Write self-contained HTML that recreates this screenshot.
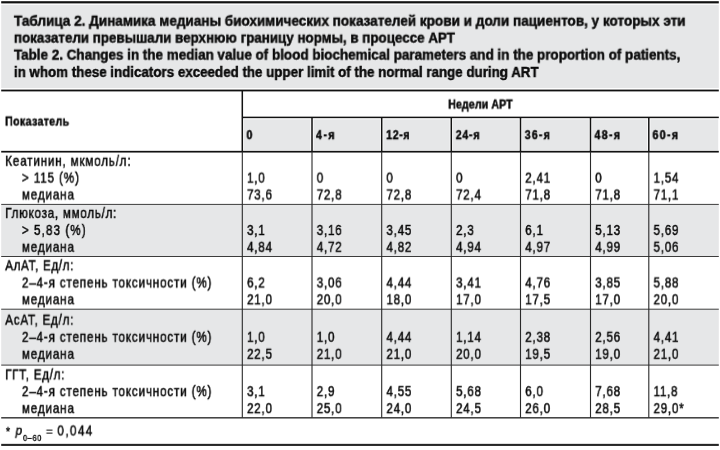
<!DOCTYPE html>
<html><head><meta charset="utf-8"><title>Table 2</title>
<style>
html,body{margin:0;padding:0;background:#fff;}
body{width:720px;height:450px;position:relative;overflow:hidden;font-family:"Liberation Sans",sans-serif;color:#0a0a0a;}
svg{position:absolute;left:0;top:0;}
.t{position:absolute;left:0;top:0;white-space:nowrap;transform-origin:0 0;display:block;will-change:transform;-webkit-text-stroke:0.45px #0a0a0a;}
</style></head><body>
<svg width="720" height="450" viewBox="0 0 720 450">
<rect x="1.20" y="4.80" width="717.60" height="83.20" fill="#e6e7e8"/>
<rect x="243.90" y="119.30" width="66.50" height="31.00" fill="#e6e7e8"/>
<rect x="313.60" y="119.30" width="66.50" height="31.00" fill="#e6e7e8"/>
<rect x="383.30" y="119.30" width="66.40" height="31.00" fill="#e6e7e8"/>
<rect x="452.90" y="119.30" width="66.00" height="31.00" fill="#e6e7e8"/>
<rect x="522.10" y="119.30" width="66.80" height="31.00" fill="#e6e7e8"/>
<rect x="592.10" y="119.30" width="55.10" height="31.00" fill="#e6e7e8"/>
<rect x="650.40" y="119.30" width="67.80" height="31.00" fill="#e6e7e8"/>
<rect x="1.20" y="204.70" width="717.60" height="51.80" fill="#e6e7e8"/>
<rect x="1.20" y="309.50" width="717.60" height="55.60" fill="#e6e7e8"/>
<rect x="1.20" y="1.20" width="717.60" height="2.20" fill="#111111"/>
<rect x="1.20" y="89.60" width="717.60" height="1.80" fill="#111111"/>
<rect x="242.30" y="116.65" width="476.50" height="1.50" fill="#111111"/>
<rect x="1.20" y="150.85" width="717.60" height="1.70" fill="#111111"/>
<rect x="1.20" y="203.90" width="717.60" height="1.00" fill="#3c3c3c"/>
<rect x="1.20" y="256.00" width="717.60" height="1.00" fill="#3c3c3c"/>
<rect x="1.20" y="308.70" width="717.60" height="1.00" fill="#3c3c3c"/>
<rect x="1.20" y="364.60" width="717.60" height="1.00" fill="#3c3c3c"/>
<rect x="1.20" y="417.05" width="717.60" height="1.50" fill="#3c3c3c"/>
<rect x="1.20" y="443.85" width="717.60" height="2.10" fill="#262626"/>
<rect x="241.55" y="90.50" width="1.50" height="61.20" fill="#111111"/>
<rect x="311.25" y="117.40" width="1.50" height="34.30" fill="#111111"/>
<rect x="380.95" y="117.40" width="1.50" height="34.30" fill="#111111"/>
<rect x="450.55" y="117.40" width="1.50" height="34.30" fill="#111111"/>
<rect x="519.75" y="117.40" width="1.50" height="34.30" fill="#111111"/>
<rect x="589.75" y="117.40" width="1.50" height="34.30" fill="#111111"/>
<rect x="648.05" y="117.40" width="1.50" height="34.30" fill="#111111"/>
<rect x="241.75" y="151.70" width="1.10" height="266.10" fill="#2a2a2a"/>
<rect x="311.45" y="151.70" width="1.10" height="266.10" fill="#2a2a2a"/>
<rect x="381.15" y="151.70" width="1.10" height="266.10" fill="#2a2a2a"/>
<rect x="450.75" y="151.70" width="1.10" height="266.10" fill="#2a2a2a"/>
<rect x="519.95" y="151.70" width="1.10" height="266.10" fill="#2a2a2a"/>
<rect x="589.95" y="151.70" width="1.10" height="266.10" fill="#2a2a2a"/>
<rect x="648.25" y="151.70" width="1.10" height="266.10" fill="#2a2a2a"/>
</svg>
<span class="t" style="font-size:14px;line-height:14px;font-weight:bold;transform:translate(13.90px,13.75px) scaleX(0.9672);-webkit-text-stroke-width:0.45px;">Таблица 2. Динамика медианы биохимических показателей крови и доли пациентов, у которых эти</span>
<span class="t" style="font-size:14px;line-height:14px;font-weight:bold;transform:translate(13.90px,30.65px) scaleX(0.9549);-webkit-text-stroke-width:0.45px;">показатели превышали верхнюю границу нормы, в процессе АРТ</span>
<span class="t" style="font-size:14px;line-height:14px;font-weight:bold;transform:translate(13.90px,47.65px) scaleX(0.9597);-webkit-text-stroke-width:0.45px;">Table 2. Changes in the median value of blood biochemical parameters and in the proportion of patients,</span>
<span class="t" style="font-size:14px;line-height:14px;font-weight:bold;transform:translate(13.90px,64.95px) scaleX(0.9536);-webkit-text-stroke-width:0.45px;">in whom these indicators exceeded the upper limit of the normal range during ART</span>
<span class="t" style="font-size:12px;line-height:12px;font-weight:bold;transform:translate(5.17px,115.54px) scaleX(0.8800);letter-spacing:0.417px;-webkit-text-stroke-width:0.45px;">Показатель</span>
<span class="t" style="font-size:12px;line-height:12px;font-weight:bold;transform:translate(448.27px,98.54px) scaleX(0.8800);letter-spacing:0.134px;-webkit-text-stroke-width:0.45px;">Недели АРТ</span>
<span class="t" style="font-size:12px;line-height:12px;font-weight:bold;transform:translate(246.47px,129.14px) scaleX(0.8800);letter-spacing:2.126px;-webkit-text-stroke-width:0.45px;">0</span>
<span class="t" style="font-size:12px;line-height:12px;font-weight:bold;transform:translate(315.97px,129.14px) scaleX(0.8800);letter-spacing:1.707px;-webkit-text-stroke-width:0.45px;">4-я</span>
<span class="t" style="font-size:12px;line-height:12px;font-weight:bold;transform:translate(386.17px,129.14px) scaleX(0.8800);letter-spacing:0.727px;-webkit-text-stroke-width:0.45px;">12-я</span>
<span class="t" style="font-size:12px;line-height:12px;font-weight:bold;transform:translate(455.77px,129.14px) scaleX(0.8800);letter-spacing:0.879px;-webkit-text-stroke-width:0.45px;">24-я</span>
<span class="t" style="font-size:12px;line-height:12px;font-weight:bold;transform:translate(524.77px,129.14px) scaleX(0.8800);letter-spacing:1.371px;-webkit-text-stroke-width:0.45px;">36-я</span>
<span class="t" style="font-size:12px;line-height:12px;font-weight:bold;transform:translate(594.47px,129.14px) scaleX(0.8800);letter-spacing:1.561px;-webkit-text-stroke-width:0.45px;">48-я</span>
<span class="t" style="font-size:12px;line-height:12px;font-weight:bold;transform:translate(652.47px,129.14px) scaleX(0.8800);letter-spacing:1.561px;-webkit-text-stroke-width:0.45px;">60-я</span>
<span class="t" style="font-size:14.2px;line-height:14.2px;font-weight:normal;transform:translate(5.23px,153.78px) scaleX(0.8200);letter-spacing:1.005px;-webkit-text-stroke-width:0.5px;">Кеатинин, мкмоль/л:</span>
<span class="t" style="font-size:14.2px;line-height:14.2px;font-weight:normal;transform:translate(21.93px,170.58px) scaleX(0.8200);letter-spacing:1.074px;-webkit-text-stroke-width:0.5px;">&gt; 115 (%)</span>
<span class="t" style="font-size:14.2px;line-height:14.2px;font-weight:normal;transform:translate(21.93px,187.48px) scaleX(0.8200);letter-spacing:1.032px;-webkit-text-stroke-width:0.5px;">медиана</span>
<span class="t" style="font-size:14.2px;line-height:14.2px;font-weight:normal;transform:translate(247.03px,170.58px) scaleX(0.8200);letter-spacing:0.900px;-webkit-text-stroke-width:0.5px;">1,0</span>
<span class="t" style="font-size:14.2px;line-height:14.2px;font-weight:normal;transform:translate(247.03px,187.48px) scaleX(0.8200);letter-spacing:0.900px;-webkit-text-stroke-width:0.5px;">73,6</span>
<span class="t" style="font-size:14.2px;line-height:14.2px;font-weight:normal;transform:translate(316.73px,170.58px) scaleX(0.8200);letter-spacing:0.900px;-webkit-text-stroke-width:0.5px;">0</span>
<span class="t" style="font-size:14.2px;line-height:14.2px;font-weight:normal;transform:translate(316.73px,187.48px) scaleX(0.8200);letter-spacing:0.900px;-webkit-text-stroke-width:0.5px;">72,8</span>
<span class="t" style="font-size:14.2px;line-height:14.2px;font-weight:normal;transform:translate(386.43px,170.58px) scaleX(0.8200);letter-spacing:0.900px;-webkit-text-stroke-width:0.5px;">0</span>
<span class="t" style="font-size:14.2px;line-height:14.2px;font-weight:normal;transform:translate(386.43px,187.48px) scaleX(0.8200);letter-spacing:0.900px;-webkit-text-stroke-width:0.5px;">72,8</span>
<span class="t" style="font-size:14.2px;line-height:14.2px;font-weight:normal;transform:translate(456.03px,170.58px) scaleX(0.8200);letter-spacing:0.900px;-webkit-text-stroke-width:0.5px;">0</span>
<span class="t" style="font-size:14.2px;line-height:14.2px;font-weight:normal;transform:translate(456.03px,187.48px) scaleX(0.8200);letter-spacing:0.900px;-webkit-text-stroke-width:0.5px;">72,4</span>
<span class="t" style="font-size:14.2px;line-height:14.2px;font-weight:normal;transform:translate(525.23px,170.58px) scaleX(0.8200);letter-spacing:0.900px;-webkit-text-stroke-width:0.5px;">2,41</span>
<span class="t" style="font-size:14.2px;line-height:14.2px;font-weight:normal;transform:translate(525.23px,187.48px) scaleX(0.8200);letter-spacing:0.900px;-webkit-text-stroke-width:0.5px;">71,8</span>
<span class="t" style="font-size:14.2px;line-height:14.2px;font-weight:normal;transform:translate(595.23px,170.58px) scaleX(0.8200);letter-spacing:0.900px;-webkit-text-stroke-width:0.5px;">0</span>
<span class="t" style="font-size:14.2px;line-height:14.2px;font-weight:normal;transform:translate(595.23px,187.48px) scaleX(0.8200);letter-spacing:0.900px;-webkit-text-stroke-width:0.5px;">71,8</span>
<span class="t" style="font-size:14.2px;line-height:14.2px;font-weight:normal;transform:translate(653.53px,170.58px) scaleX(0.8200);letter-spacing:0.900px;-webkit-text-stroke-width:0.5px;">1,54</span>
<span class="t" style="font-size:14.2px;line-height:14.2px;font-weight:normal;transform:translate(653.53px,187.48px) scaleX(0.8200);letter-spacing:0.900px;-webkit-text-stroke-width:0.5px;">71,1</span>
<span class="t" style="font-size:14.2px;line-height:14.2px;font-weight:normal;transform:translate(5.23px,205.88px) scaleX(0.8200);letter-spacing:0.902px;-webkit-text-stroke-width:0.5px;">Глюкоза, ммоль/л:</span>
<span class="t" style="font-size:14.2px;line-height:14.2px;font-weight:normal;transform:translate(21.93px,222.98px) scaleX(0.8200);letter-spacing:1.307px;-webkit-text-stroke-width:0.5px;">&gt; 5,83 (%)</span>
<span class="t" style="font-size:14.2px;line-height:14.2px;font-weight:normal;transform:translate(21.93px,239.78px) scaleX(0.8200);letter-spacing:1.032px;-webkit-text-stroke-width:0.5px;">медиана</span>
<span class="t" style="font-size:14.2px;line-height:14.2px;font-weight:normal;transform:translate(247.03px,222.98px) scaleX(0.8200);letter-spacing:0.900px;-webkit-text-stroke-width:0.5px;">3,1</span>
<span class="t" style="font-size:14.2px;line-height:14.2px;font-weight:normal;transform:translate(247.03px,239.78px) scaleX(0.8200);letter-spacing:0.900px;-webkit-text-stroke-width:0.5px;">4,84</span>
<span class="t" style="font-size:14.2px;line-height:14.2px;font-weight:normal;transform:translate(316.73px,222.98px) scaleX(0.8200);letter-spacing:0.900px;-webkit-text-stroke-width:0.5px;">3,16</span>
<span class="t" style="font-size:14.2px;line-height:14.2px;font-weight:normal;transform:translate(316.73px,239.78px) scaleX(0.8200);letter-spacing:0.900px;-webkit-text-stroke-width:0.5px;">4,72</span>
<span class="t" style="font-size:14.2px;line-height:14.2px;font-weight:normal;transform:translate(386.43px,222.98px) scaleX(0.8200);letter-spacing:0.900px;-webkit-text-stroke-width:0.5px;">3,45</span>
<span class="t" style="font-size:14.2px;line-height:14.2px;font-weight:normal;transform:translate(386.43px,239.78px) scaleX(0.8200);letter-spacing:0.900px;-webkit-text-stroke-width:0.5px;">4,82</span>
<span class="t" style="font-size:14.2px;line-height:14.2px;font-weight:normal;transform:translate(456.03px,222.98px) scaleX(0.8200);letter-spacing:0.900px;-webkit-text-stroke-width:0.5px;">2,3</span>
<span class="t" style="font-size:14.2px;line-height:14.2px;font-weight:normal;transform:translate(456.03px,239.78px) scaleX(0.8200);letter-spacing:0.900px;-webkit-text-stroke-width:0.5px;">4,94</span>
<span class="t" style="font-size:14.2px;line-height:14.2px;font-weight:normal;transform:translate(525.23px,222.98px) scaleX(0.8200);letter-spacing:0.900px;-webkit-text-stroke-width:0.5px;">6,1</span>
<span class="t" style="font-size:14.2px;line-height:14.2px;font-weight:normal;transform:translate(525.23px,239.78px) scaleX(0.8200);letter-spacing:0.900px;-webkit-text-stroke-width:0.5px;">4,97</span>
<span class="t" style="font-size:14.2px;line-height:14.2px;font-weight:normal;transform:translate(595.23px,222.98px) scaleX(0.8200);letter-spacing:0.900px;-webkit-text-stroke-width:0.5px;">5,13</span>
<span class="t" style="font-size:14.2px;line-height:14.2px;font-weight:normal;transform:translate(595.23px,239.78px) scaleX(0.8200);letter-spacing:0.900px;-webkit-text-stroke-width:0.5px;">4,99</span>
<span class="t" style="font-size:14.2px;line-height:14.2px;font-weight:normal;transform:translate(653.53px,222.98px) scaleX(0.8200);letter-spacing:0.900px;-webkit-text-stroke-width:0.5px;">5,69</span>
<span class="t" style="font-size:14.2px;line-height:14.2px;font-weight:normal;transform:translate(653.53px,239.78px) scaleX(0.8200);letter-spacing:0.900px;-webkit-text-stroke-width:0.5px;">5,06</span>
<span class="t" style="font-size:14.2px;line-height:14.2px;font-weight:normal;transform:translate(5.23px,258.28px) scaleX(0.8200);letter-spacing:0.812px;-webkit-text-stroke-width:0.5px;">АлАТ, Ед/л:</span>
<span class="t" style="font-size:14.2px;line-height:14.2px;font-weight:normal;transform:translate(21.93px,275.48px) scaleX(0.8200);letter-spacing:1.025px;-webkit-text-stroke-width:0.5px;">2–4-я степень токсичности (%)</span>
<span class="t" style="font-size:14.2px;line-height:14.2px;font-weight:normal;transform:translate(21.93px,292.28px) scaleX(0.8200);letter-spacing:1.032px;-webkit-text-stroke-width:0.5px;">медиана</span>
<span class="t" style="font-size:14.2px;line-height:14.2px;font-weight:normal;transform:translate(247.03px,275.48px) scaleX(0.8200);letter-spacing:0.900px;-webkit-text-stroke-width:0.5px;">6,2</span>
<span class="t" style="font-size:14.2px;line-height:14.2px;font-weight:normal;transform:translate(247.03px,292.28px) scaleX(0.8200);letter-spacing:0.900px;-webkit-text-stroke-width:0.5px;">21,0</span>
<span class="t" style="font-size:14.2px;line-height:14.2px;font-weight:normal;transform:translate(316.73px,275.48px) scaleX(0.8200);letter-spacing:0.900px;-webkit-text-stroke-width:0.5px;">3,06</span>
<span class="t" style="font-size:14.2px;line-height:14.2px;font-weight:normal;transform:translate(316.73px,292.28px) scaleX(0.8200);letter-spacing:0.900px;-webkit-text-stroke-width:0.5px;">20,0</span>
<span class="t" style="font-size:14.2px;line-height:14.2px;font-weight:normal;transform:translate(386.43px,275.48px) scaleX(0.8200);letter-spacing:0.900px;-webkit-text-stroke-width:0.5px;">4,44</span>
<span class="t" style="font-size:14.2px;line-height:14.2px;font-weight:normal;transform:translate(386.43px,292.28px) scaleX(0.8200);letter-spacing:0.900px;-webkit-text-stroke-width:0.5px;">18,0</span>
<span class="t" style="font-size:14.2px;line-height:14.2px;font-weight:normal;transform:translate(456.03px,275.48px) scaleX(0.8200);letter-spacing:0.900px;-webkit-text-stroke-width:0.5px;">3,41</span>
<span class="t" style="font-size:14.2px;line-height:14.2px;font-weight:normal;transform:translate(456.03px,292.28px) scaleX(0.8200);letter-spacing:0.900px;-webkit-text-stroke-width:0.5px;">17,0</span>
<span class="t" style="font-size:14.2px;line-height:14.2px;font-weight:normal;transform:translate(525.23px,275.48px) scaleX(0.8200);letter-spacing:0.900px;-webkit-text-stroke-width:0.5px;">4,76</span>
<span class="t" style="font-size:14.2px;line-height:14.2px;font-weight:normal;transform:translate(525.23px,292.28px) scaleX(0.8200);letter-spacing:0.900px;-webkit-text-stroke-width:0.5px;">17,5</span>
<span class="t" style="font-size:14.2px;line-height:14.2px;font-weight:normal;transform:translate(595.23px,275.48px) scaleX(0.8200);letter-spacing:0.900px;-webkit-text-stroke-width:0.5px;">3,85</span>
<span class="t" style="font-size:14.2px;line-height:14.2px;font-weight:normal;transform:translate(595.23px,292.28px) scaleX(0.8200);letter-spacing:0.900px;-webkit-text-stroke-width:0.5px;">17,0</span>
<span class="t" style="font-size:14.2px;line-height:14.2px;font-weight:normal;transform:translate(653.53px,275.48px) scaleX(0.8200);letter-spacing:0.900px;-webkit-text-stroke-width:0.5px;">5,88</span>
<span class="t" style="font-size:14.2px;line-height:14.2px;font-weight:normal;transform:translate(653.53px,292.28px) scaleX(0.8200);letter-spacing:0.900px;-webkit-text-stroke-width:0.5px;">20,0</span>
<span class="t" style="font-size:14.2px;line-height:14.2px;font-weight:normal;transform:translate(5.23px,312.68px) scaleX(0.8200);letter-spacing:0.931px;-webkit-text-stroke-width:0.5px;">АсАТ, Ед/л:</span>
<span class="t" style="font-size:14.2px;line-height:14.2px;font-weight:normal;transform:translate(21.93px,329.78px) scaleX(0.8200);letter-spacing:1.025px;-webkit-text-stroke-width:0.5px;">2–4-я степень токсичности (%)</span>
<span class="t" style="font-size:14.2px;line-height:14.2px;font-weight:normal;transform:translate(21.93px,346.78px) scaleX(0.8200);letter-spacing:1.032px;-webkit-text-stroke-width:0.5px;">медиана</span>
<span class="t" style="font-size:14.2px;line-height:14.2px;font-weight:normal;transform:translate(247.03px,329.78px) scaleX(0.8200);letter-spacing:0.900px;-webkit-text-stroke-width:0.5px;">1,0</span>
<span class="t" style="font-size:14.2px;line-height:14.2px;font-weight:normal;transform:translate(247.03px,346.78px) scaleX(0.8200);letter-spacing:0.900px;-webkit-text-stroke-width:0.5px;">22,5</span>
<span class="t" style="font-size:14.2px;line-height:14.2px;font-weight:normal;transform:translate(316.73px,329.78px) scaleX(0.8200);letter-spacing:0.900px;-webkit-text-stroke-width:0.5px;">1,0</span>
<span class="t" style="font-size:14.2px;line-height:14.2px;font-weight:normal;transform:translate(316.73px,346.78px) scaleX(0.8200);letter-spacing:0.900px;-webkit-text-stroke-width:0.5px;">21,0</span>
<span class="t" style="font-size:14.2px;line-height:14.2px;font-weight:normal;transform:translate(386.43px,329.78px) scaleX(0.8200);letter-spacing:0.900px;-webkit-text-stroke-width:0.5px;">4,44</span>
<span class="t" style="font-size:14.2px;line-height:14.2px;font-weight:normal;transform:translate(386.43px,346.78px) scaleX(0.8200);letter-spacing:0.900px;-webkit-text-stroke-width:0.5px;">21,0</span>
<span class="t" style="font-size:14.2px;line-height:14.2px;font-weight:normal;transform:translate(456.03px,329.78px) scaleX(0.8200);letter-spacing:0.900px;-webkit-text-stroke-width:0.5px;">1,14</span>
<span class="t" style="font-size:14.2px;line-height:14.2px;font-weight:normal;transform:translate(456.03px,346.78px) scaleX(0.8200);letter-spacing:0.900px;-webkit-text-stroke-width:0.5px;">20,0</span>
<span class="t" style="font-size:14.2px;line-height:14.2px;font-weight:normal;transform:translate(525.23px,329.78px) scaleX(0.8200);letter-spacing:0.900px;-webkit-text-stroke-width:0.5px;">2,38</span>
<span class="t" style="font-size:14.2px;line-height:14.2px;font-weight:normal;transform:translate(525.23px,346.78px) scaleX(0.8200);letter-spacing:0.900px;-webkit-text-stroke-width:0.5px;">19,5</span>
<span class="t" style="font-size:14.2px;line-height:14.2px;font-weight:normal;transform:translate(595.23px,329.78px) scaleX(0.8200);letter-spacing:0.900px;-webkit-text-stroke-width:0.5px;">2,56</span>
<span class="t" style="font-size:14.2px;line-height:14.2px;font-weight:normal;transform:translate(595.23px,346.78px) scaleX(0.8200);letter-spacing:0.900px;-webkit-text-stroke-width:0.5px;">19,0</span>
<span class="t" style="font-size:14.2px;line-height:14.2px;font-weight:normal;transform:translate(653.53px,329.78px) scaleX(0.8200);letter-spacing:0.900px;-webkit-text-stroke-width:0.5px;">4,41</span>
<span class="t" style="font-size:14.2px;line-height:14.2px;font-weight:normal;transform:translate(653.53px,346.78px) scaleX(0.8200);letter-spacing:0.900px;-webkit-text-stroke-width:0.5px;">21,0</span>
<span class="t" style="font-size:14.2px;line-height:14.2px;font-weight:normal;transform:translate(5.23px,367.38px) scaleX(0.8200);letter-spacing:0.876px;-webkit-text-stroke-width:0.5px;">ГГТ, Ед/л:</span>
<span class="t" style="font-size:14.2px;line-height:14.2px;font-weight:normal;transform:translate(21.93px,384.18px) scaleX(0.8200);letter-spacing:1.025px;-webkit-text-stroke-width:0.5px;">2–4-я степень токсичности (%)</span>
<span class="t" style="font-size:14.2px;line-height:14.2px;font-weight:normal;transform:translate(21.93px,401.18px) scaleX(0.8200);letter-spacing:1.032px;-webkit-text-stroke-width:0.5px;">медиана</span>
<span class="t" style="font-size:14.2px;line-height:14.2px;font-weight:normal;transform:translate(247.03px,384.18px) scaleX(0.8200);letter-spacing:0.900px;-webkit-text-stroke-width:0.5px;">3,1</span>
<span class="t" style="font-size:14.2px;line-height:14.2px;font-weight:normal;transform:translate(247.03px,401.18px) scaleX(0.8200);letter-spacing:0.900px;-webkit-text-stroke-width:0.5px;">22,0</span>
<span class="t" style="font-size:14.2px;line-height:14.2px;font-weight:normal;transform:translate(316.73px,384.18px) scaleX(0.8200);letter-spacing:0.900px;-webkit-text-stroke-width:0.5px;">2,9</span>
<span class="t" style="font-size:14.2px;line-height:14.2px;font-weight:normal;transform:translate(316.73px,401.18px) scaleX(0.8200);letter-spacing:0.900px;-webkit-text-stroke-width:0.5px;">25,0</span>
<span class="t" style="font-size:14.2px;line-height:14.2px;font-weight:normal;transform:translate(386.43px,384.18px) scaleX(0.8200);letter-spacing:0.900px;-webkit-text-stroke-width:0.5px;">4,55</span>
<span class="t" style="font-size:14.2px;line-height:14.2px;font-weight:normal;transform:translate(386.43px,401.18px) scaleX(0.8200);letter-spacing:0.900px;-webkit-text-stroke-width:0.5px;">24,0</span>
<span class="t" style="font-size:14.2px;line-height:14.2px;font-weight:normal;transform:translate(456.03px,384.18px) scaleX(0.8200);letter-spacing:0.900px;-webkit-text-stroke-width:0.5px;">5,68</span>
<span class="t" style="font-size:14.2px;line-height:14.2px;font-weight:normal;transform:translate(456.03px,401.18px) scaleX(0.8200);letter-spacing:0.900px;-webkit-text-stroke-width:0.5px;">24,5</span>
<span class="t" style="font-size:14.2px;line-height:14.2px;font-weight:normal;transform:translate(525.23px,384.18px) scaleX(0.8200);letter-spacing:0.900px;-webkit-text-stroke-width:0.5px;">6,0</span>
<span class="t" style="font-size:14.2px;line-height:14.2px;font-weight:normal;transform:translate(525.23px,401.18px) scaleX(0.8200);letter-spacing:0.900px;-webkit-text-stroke-width:0.5px;">26,0</span>
<span class="t" style="font-size:14.2px;line-height:14.2px;font-weight:normal;transform:translate(595.23px,384.18px) scaleX(0.8200);letter-spacing:0.900px;-webkit-text-stroke-width:0.5px;">7,68</span>
<span class="t" style="font-size:14.2px;line-height:14.2px;font-weight:normal;transform:translate(595.23px,401.18px) scaleX(0.8200);letter-spacing:0.900px;-webkit-text-stroke-width:0.5px;">28,5</span>
<span class="t" style="font-size:14.2px;line-height:14.2px;font-weight:normal;transform:translate(653.53px,384.18px) scaleX(0.8200);letter-spacing:0.900px;-webkit-text-stroke-width:0.5px;">11,8</span>
<span class="t" style="font-size:14.2px;line-height:14.2px;font-weight:normal;transform:translate(653.53px,401.18px) scaleX(0.8200);letter-spacing:0.900px;-webkit-text-stroke-width:0.5px;">29,0*</span>
<span class="t" style="font-size:13px;line-height:13px;font-weight:normal;transform:translate(5.83px,424.90px) scaleX(0.8500);-webkit-text-stroke-width:0.4px;">*</span>
<span class="t" style="font-size:13px;line-height:13px;font-weight:normal;transform:translate(15.60px,423.80px) scaleX(0.9000);-webkit-text-stroke-width:0.45px;font-style:italic;">p</span>
<span class="t" style="font-size:8.4px;line-height:8.4px;font-weight:normal;transform:translate(23.05px,433.89px) scaleX(0.8500);letter-spacing:0.967px;-webkit-text-stroke-width:0.4px;">0–60</span>
<span class="t" style="font-size:13px;line-height:13px;font-weight:normal;transform:translate(45.82px,424.60px) scaleX(0.9500);-webkit-text-stroke-width:0.15px;">=</span>
<span class="t" style="font-size:14.2px;line-height:14.2px;font-weight:normal;transform:translate(57.43px,423.48px) scaleX(0.8200);letter-spacing:1.745px;-webkit-text-stroke-width:0.5px;">0,044</span>
</body></html>
